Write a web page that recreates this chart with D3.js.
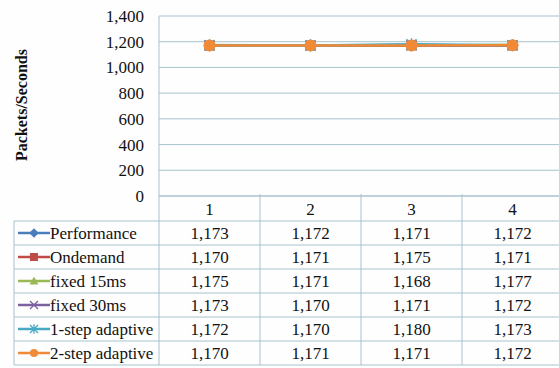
<!DOCTYPE html>
<html>
<head>
<meta charset="utf-8">
<script src="https://cdn.jsdelivr.net/npm/d3@7"></script>
<style>
  html, body { margin: 0; padding: 0; background: #fefefe; }
  svg { display: block; }
  .serif { font-family: 'Liberation Serif', 'Times New Roman', serif; }
</style>
</head>
<body>
<svg id="chart" width="559" height="368"></svg>
<script>
// Categories (runs) and per-governor throughput in packets/second
const categories = ["1", "2", "3", "4"];
const seriesNames = ["Performance", "Ondemand", "fixed 15ms", "fixed 30ms", "1-step adaptive", "2-step adaptive"];
const performance = [1173, 1172, 1171, 1172];
const ondemand = [1170, 1171, 1175, 1171];
const fixed15 = [1175, 1171, 1168, 1177];
const fixed30 = [1173, 1170, 1171, 1172];
const adaptive1 = [1172, 1170, 1180, 1173];
const adaptive2 = [1170, 1171, 1171, 1172];
const yTicks = [0, 200, 400, 600, 800, 1000, 1200, 1400];

const seriesValues = [performance, ondemand, fixed15, fixed30, adaptive1, adaptive2];
const colors = ["#4a7ebb", "#be4b48", "#98b954", "#7d60a0", "#46aac5", "#f08a37"];
const markers = ["diamond", "square", "triangle", "cross", "asterisk", "circle"];

const textFont = "Liberation Serif";
const svg = d3.select("#chart").attr("font-family", textFont).style("font-family", "'Liberation Serif'");
const gridColor = "#a8c3cd";
const fmt = d3.format(",");
const fontSize = 17;

// Applies the serif face to a text selection in every way the renderer accepts
function serifText(sel) {
  return sel.classed("serif", true).attr("font-family", textFont).style("font-family", "'Liberation Serif'");
}

const plotLeft = 159, plotRight = 563, plotTop = 16, plotBottom = 196;
const x = d3.scaleBand().domain(categories).range([plotLeft, plotRight]);
const y = d3.scaleLinear().domain([0, 1400]).range([plotBottom, plotTop]);

// Horizontal gridlines
svg.append("g").selectAll("line").data(yTicks).join("line")
  .attr("x1", plotLeft).attr("x2", plotRight)
  .attr("y1", d => y(d)).attr("y2", d => y(d))
  .attr("stroke", gridColor).attr("stroke-width", 1);

// Left border of the plot
svg.append("line").attr("x1", plotLeft).attr("x2", plotLeft).attr("y1", plotTop).attr("y2", plotBottom)
  .attr("stroke", gridColor);

// Y axis tick labels
const yAxis = d3.axisLeft(y).tickValues(yTicks).tickFormat(fmt).tickSize(0).tickPadding(15);
const ya = svg.append("g").attr("transform", `translate(${plotLeft},0)`).call(yAxis);
ya.select(".domain").remove();
ya.attr("font-family", textFont).attr("font-size", fontSize);
serifText(ya.selectAll("text")).attr("font-size", fontSize).attr("fill", "#111");

// Y axis title
serifText(svg.append("text"))
  .attr("transform", "translate(27,105) rotate(-90)")
  .attr("text-anchor", "middle")
  .attr("font-size", 16).attr("font-weight", "bold").attr("fill", "#111")
  .text("Packets/Seconds");

// Marker shapes
function drawMarker(g, type, cx, cy, color, s) {
  if (type === "circle") {
    g.append("circle").attr("cx", cx).attr("cy", cy).attr("r", s).attr("fill", color);
  } else if (type === "square") {
    g.append("rect").attr("x", cx - s).attr("y", cy - s).attr("width", 2 * s).attr("height", 2 * s).attr("fill", color);
  } else if (type === "diamond") {
    g.append("path").attr("d", `M${cx},${cy - s * 1.2}L${cx + s * 1.2},${cy}L${cx},${cy + s * 1.2}L${cx - s * 1.2},${cy}Z`).attr("fill", color);
  } else if (type === "triangle") {
    g.append("path").attr("d", `M${cx},${cy - s * 1.1}L${cx + s * 1.1},${cy + s * 0.9}L${cx - s * 1.1},${cy + s * 0.9}Z`).attr("fill", color);
  } else if (type === "cross") {
    g.append("path").attr("d", `M${cx - s},${cy - s}L${cx + s},${cy + s}M${cx - s},${cy + s}L${cx + s},${cy - s}`)
      .attr("stroke", color).attr("stroke-width", 1.3);
  } else if (type === "asterisk") {
    g.append("path").attr("d", `M${cx - s},${cy - s}L${cx + s},${cy + s}M${cx - s},${cy + s}L${cx + s},${cy - s}M${cx},${cy - s * 1.2}L${cx},${cy + s * 1.2}`)
      .attr("stroke", color).attr("stroke-width", 1.3);
  }
}

// Series lines and markers
const line = d3.line().x((d, i) => x(categories[i]) + x.bandwidth() / 2).y(d => y(d));
const plot = svg.append("g");
seriesValues.forEach((vals, si) => {
  plot.append("path").datum(vals).attr("d", line)
    .attr("fill", "none").attr("stroke", colors[si]).attr("stroke-width", 2.5);
  vals.forEach((v, i) => {
    drawMarker(plot, markers[si], x(categories[i]) + x.bandwidth() / 2, y(v), colors[si], si === 5 ? 6 : 5);
  });
});

// Data table below the plot
const tableLeft = 14, headerTop = plotBottom, headerH = 25, rowH = 24;
const rowsTop = headerTop + headerH;
const tbl = svg.append("g").attr("font-size", fontSize).attr("fill", "#111").attr("font-family", textFont);

// Header row with category labels
tbl.append("line").attr("x1", plotLeft).attr("x2", plotRight).attr("y1", headerTop).attr("y2", headerTop).attr("stroke", gridColor);
categories.forEach(c => {
  serifText(tbl.append("text")).attr("x", x(c) + x.bandwidth() / 2).attr("y", headerTop + headerH / 2 + 6)
    .attr("text-anchor", "middle").text(c);
});

// Row lines
d3.range(seriesNames.length + 1).forEach(r => {
  tbl.append("line").attr("x1", tableLeft).attr("x2", plotRight)
    .attr("y1", rowsTop + r * rowH).attr("y2", rowsTop + r * rowH).attr("stroke", gridColor);
});
// Column lines
tbl.append("line").attr("x1", tableLeft).attr("x2", tableLeft).attr("y1", rowsTop).attr("y2", rowsTop + seriesNames.length * rowH).attr("stroke", gridColor);
tbl.append("line").attr("x1", plotLeft).attr("x2", plotLeft).attr("y1", headerTop).attr("y2", rowsTop + seriesNames.length * rowH).attr("stroke", gridColor);
categories.slice(1).forEach(c => {
  tbl.append("line").attr("x1", x(c)).attr("x2", x(c)).attr("y1", headerTop - 2).attr("y2", rowsTop + seriesNames.length * rowH).attr("stroke", gridColor);
});

// Legend keys, names and values
seriesNames.forEach((name, si) => {
  const cy = rowsTop + si * rowH + rowH / 2;
  tbl.append("line").attr("x1", 18).attr("x2", 50).attr("y1", cy).attr("y2", cy)
    .attr("stroke", colors[si]).attr("stroke-width", 2.5);
  drawMarker(tbl, markers[si], 34, cy, colors[si], 4);
  serifText(tbl.append("text")).attr("x", 50).attr("y", cy + 6).text(name);
  seriesValues[si].forEach((v, i) => {
    serifText(tbl.append("text")).attr("x", x(categories[i]) + x.bandwidth() / 2).attr("y", cy + 6)
      .attr("text-anchor", "middle").text(fmt(v));
  });
});
</script>
</body>
</html>
